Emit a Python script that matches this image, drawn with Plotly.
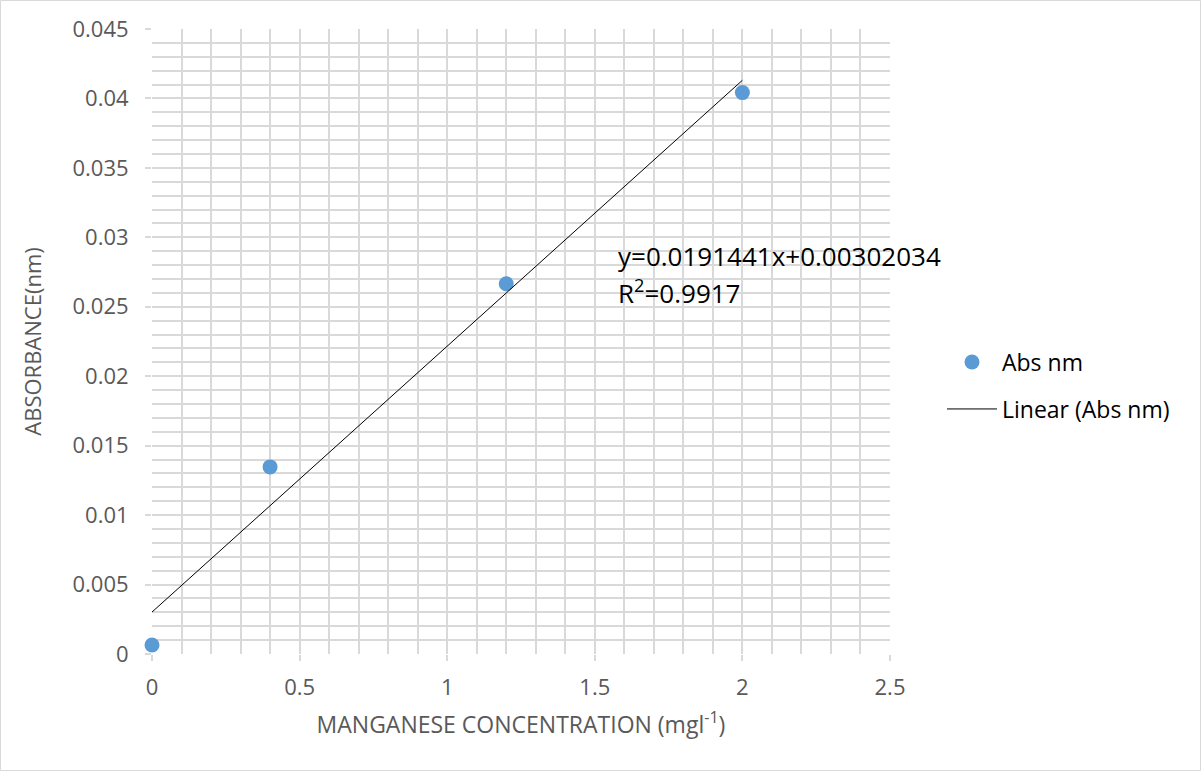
import plotly.graph_objects as go

# Manganese calibration data
concentration = [0, 0.4, 1.2, 2.0]
absorbance = [0.00065, 0.01347, 0.02666, 0.04042]

# Linear trendline coefficients shown in the equation label
slope = 0.0191441
intercept = 0.00302034
r_squared = 0.9917

trend_x = [min(concentration), max(concentration)]
trend_y = [slope * x + intercept for x in trend_x]

FONT = "Open Sans"
GRID = "#d9d9d9"
LABEL = "#595959"

W, H = 1201, 771
ML, MR, MT, MB = 152, 311, 29, 117
pw, ph = W - ML - MR, H - MT - MB

fig = go.Figure()

fig.add_trace(go.Scatter(
    x=concentration, y=absorbance, mode="markers", name="Abs nm",
    marker=dict(color="#5b9bd5", size=15),
    legend="legend", cliponaxis=False,
))
fig.add_trace(go.Scatter(
    x=trend_x, y=trend_y, mode="lines", name="Linear (Abs nm)",
    line=dict(color="black", width=1),
    legend="legend2",
))

# Trendline equation and R² as two separate lines of text
eq_lines = [
    (f"y={slope}x+{intercept:.8f}".rstrip("0"), 0.02867),
    (f"R<sup>2</sup>={r_squared}", 0.0261),
]
for text, ypos in eq_lines:
    fig.add_annotation(
        x=1.575, y=ypos, xref="x", yref="y", text=text,
        showarrow=False, xanchor="left", yanchor="middle", align="left",
        font=dict(family=FONT, size=26, color="black"), borderpad=0,
    )

axis_common = dict(
    showgrid=True, gridcolor=GRID, gridwidth=1.5,
    showline=False, zeroline=False,
    ticks="outside", ticklen=6, tickcolor=GRID, tickwidth=1.5,
    tickfont=dict(family=FONT, size=22, color=LABEL),
)

fig.update_xaxes(
    range=[0, 2.5], dtick=0.5, tick0=0,
    minor=dict(dtick=0.1, showgrid=True, gridcolor=GRID, gridwidth=1.5),
    ticklabelstandoff=8,
    title=dict(text="MANGANESE CONCENTRATION (mgl<sup>-1</sup>)",
               font=dict(family=FONT, size=23, color=LABEL), standoff=16),
    **axis_common,
)
fig.update_yaxes(
    range=[0, 0.045], dtick=0.005, tick0=0,
    minor=dict(dtick=0.001, showgrid=True, gridcolor=GRID, gridwidth=1.5),
    ticklabelstandoff=12,
    title=dict(text="ABSORBANCE(nm)",
               font=dict(family=FONT, size=22, color=LABEL), standoff=24),
    **axis_common,
)

legend_common = dict(
    xanchor="left", yanchor="middle", bgcolor="rgba(0,0,0,0)",
    font=dict(family=FONT, size=23, color="black"), itemwidth=50,
)

fig.update_layout(
    width=W, height=H,
    margin=dict(l=ML, r=MR, t=MT, b=MB, autoexpand=False),
    paper_bgcolor="white", plot_bgcolor="white",
    showlegend=True,
    legend=dict(x=(942 - ML) / pw, y=(MT + ph - 362) / ph, **legend_common),
    legend2=dict(x=(942 - ML) / pw, y=(MT + ph - 409) / ph, **legend_common),
    shapes=[dict(
        type="rect", xref="paper", yref="paper", layer="above",
        x0=(0.5 - ML) / pw, x1=(W - 0.5 - ML) / pw,
        y0=(MT + ph - (H - 0.5)) / ph, y1=(MT + ph - 0.5) / ph,
        line=dict(color=GRID, width=1),
    )],
)

fig.write_html("out.html")
